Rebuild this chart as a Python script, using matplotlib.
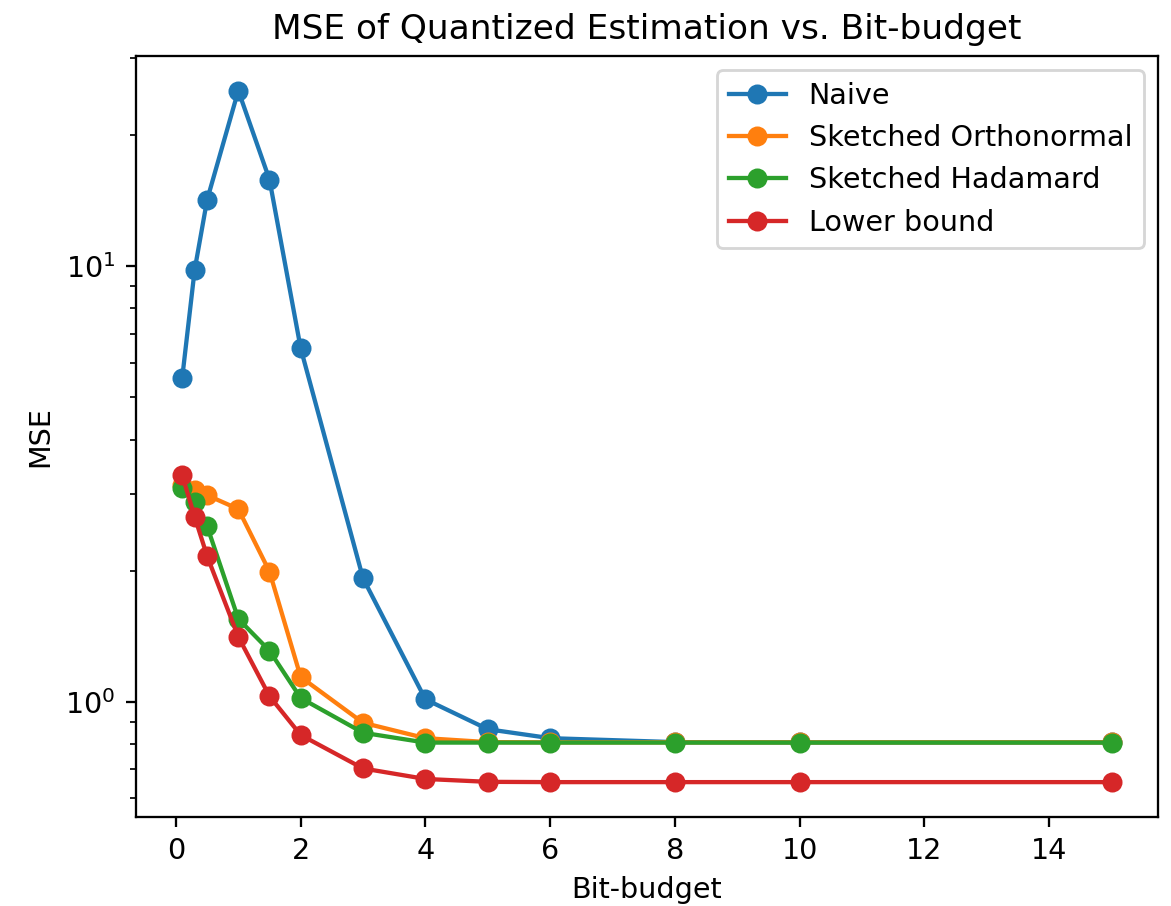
import matplotlib
matplotlib.use("Agg")
import matplotlib.pyplot as plt

bits = [0.1, 0.3, 0.5, 1, 1.5, 2, 3, 4, 5, 6, 8, 10, 15]
naive = [5.53, 9.8, 14.2, 25.3, 15.8, 6.48, 1.92, 1.013, 0.865, 0.825, 0.808, 0.807, 0.807]
orthonormal = [3.15, 3.06, 2.98, 2.77, 1.99, 1.14, 0.895, 0.825, 0.808, 0.807, 0.807, 0.807, 0.807]
hadamard = [3.10, 2.88, 2.53, 1.55, 1.31, 1.02, 0.849, 0.806, 0.806, 0.806, 0.806, 0.806, 0.806]
lower = [3.31, 2.66, 2.16, 1.41, 1.03, 0.839, 0.703, 0.665, 0.655, 0.654, 0.654, 0.654, 0.654]

dpi = 206
fig = plt.figure(figsize=(1171 / dpi, 906 / dpi), dpi=dpi)
ax = fig.add_axes([135.7 / 1171, 1 - 816.7 / 906, (1158 - 135.7) / 1171, (816.7 - 56) / 906])

ax.plot(bits, naive, marker="o", label="Naive")
ax.plot(bits, orthonormal, marker="o", label="Sketched Orthonormal")
ax.plot(bits, hadamard, marker="o", label="Sketched Hadamard")
ax.plot(bits, lower, marker="o", label="Lower bound")
ax.set_yscale("log")
ax.set_xlabel("Bit-budget")
ax.set_ylabel("MSE")
ax.set_title("MSE of Quantized Estimation vs. Bit-budget")
ax.legend(loc="upper right")

fig.savefig("out.png", dpi=dpi)
